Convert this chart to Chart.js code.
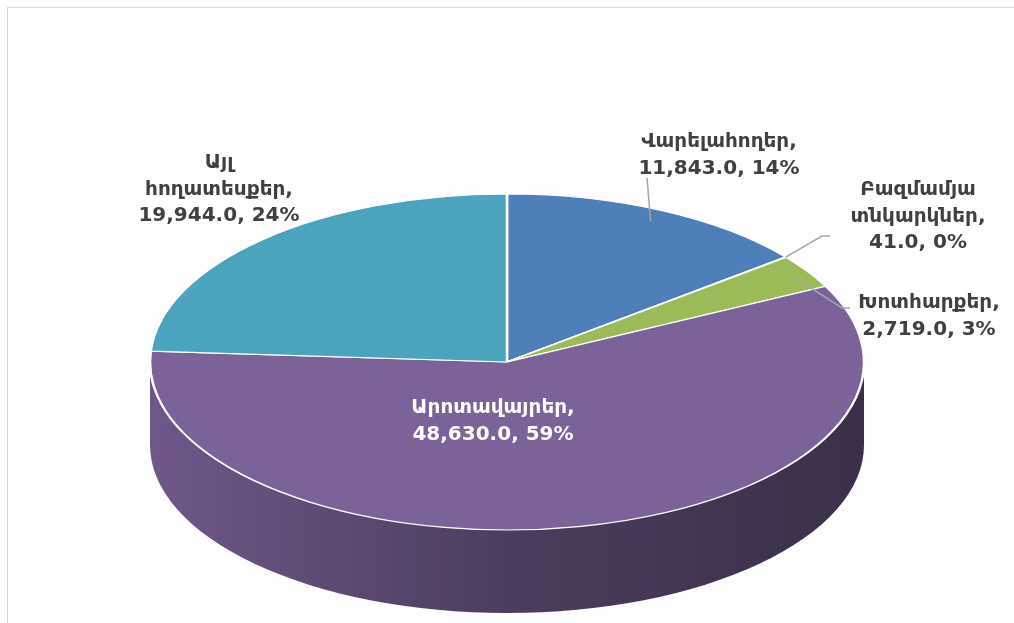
<!DOCTYPE html>
<html>
<head>
<meta charset="utf-8">
<script src="https://cdn.jsdelivr.net/npm/chart.js@4/dist/chart.umd.min.js"></script>
<style>
  html, body { margin: 0; padding: 0; background: #fff; }
  #wrap { position: relative; width: 1014px; height: 623px; }
  #frame { position: absolute; left: 7px; top: 7px; width: 1020px; height: 630px; border: 1px solid #d9d9d9; }
  canvas { position: absolute; left: 0; top: 0; }
</style>
</head>
<body>
<div id="wrap">
  <div id="frame"></div>
  <canvas id="graphique" width="1014" height="623"></canvas>
</div>
<script>
// donnees
const categories = ['Վարելահողեր', 'Բազմամյա տնկարկներ', 'Խոտհարքեր', 'Արոտավայրեր', 'Այլ հողատեսքեր'];
const values = [11843.0, 41.0, 2719.0, 48630.0, 19944.0];
const percents = [14, 0, 3, 59, 24];
const colors = ['#4f7fb8', '#c0504d', '#9bbb59', '#7b6298', '#4ba3bd'];

// mise en page (ellipse + etiquettes)
const pie = { cx: 507, cy: 362, rx: 357, ry: 168, depth: 83 };
const labelLayout = [
  { x: 719, y: 142, color: '#404040', wrap: false, lead: [0.93, 647, 178] },
  { x: 918, y: 190, color: '#404040', wrap: true, lead: [1.0, 822, 236, 830] },
  { x: 929, y: 303, color: '#404040', wrap: false, lead: [0.95, 842, 308, 850] },
  { x: 493, y: 408, color: '#ffffff', wrap: false },
  { x: 219, y: 163, color: '#404040', wrap: true }
];

function shade(hex, f) {
  const n = parseInt(hex.slice(1), 16);
  const r = Math.round(((n >> 16) & 255) * f);
  const g = Math.round(((n >> 8) & 255) * f);
  const b = Math.round((n & 255) * f);
  return 'rgb(' + r + ',' + g + ',' + b + ')';
}

function pt(a, rf) {
  return [pie.cx + pie.rx * rf * Math.cos(a), pie.cy + pie.ry * rf * Math.sin(a)];
}

function fmt(v) {
  return v.toLocaleString('en-US', { minimumFractionDigits: 1, maximumFractionDigits: 1 });
}

const pie3d = {
  id: 'pie3d',
  beforeDatasetsDraw(chart) {
    const ctx = chart.ctx;
    const arcs = chart.getDatasetMeta(0).data;
    // cote du camembert (partie avant seulement)
    arcs.forEach((arc, i) => {
      let a1 = Math.max(arc.startAngle, 0);
      let a2 = Math.min(arc.endAngle, Math.PI);
      // angles peuvent depasser 2PI
      if (arc.endAngle > 2 * Math.PI) {
        a1 = Math.max(arc.startAngle - 2 * Math.PI, 0);
        a2 = Math.min(arc.endAngle - 2 * Math.PI, Math.PI);
      }
      if (a2 <= a1) return;
      const grad = ctx.createLinearGradient(pie.cx - pie.rx, 0, pie.cx + pie.rx, 0);
      grad.addColorStop(0, shade(colors[i], 0.9));
      grad.addColorStop(0.5, shade(colors[i], 0.62));
      grad.addColorStop(1, shade(colors[i], 0.48));
      ctx.save();
      ctx.beginPath();
      ctx.ellipse(pie.cx, pie.cy, pie.rx, pie.ry, 0, a1, a2, false);
      ctx.ellipse(pie.cx, pie.cy + pie.depth, pie.rx, pie.ry, 0, a2, a1, true);
      ctx.closePath();
      ctx.fillStyle = grad;
      ctx.fill();
      ctx.restore();
    });
    // applatissement du dessus
    const a0 = arcs[0];
    ctx.save();
    ctx.translate(pie.cx, pie.cy);
    ctx.scale(pie.rx / a0.outerRadius, pie.ry / a0.outerRadius);
    ctx.translate(-a0.x, -a0.y);
  },
  afterDatasetsDraw(chart) {
    chart.ctx.restore();
  },
  afterDraw(chart) {
    const ctx = chart.ctx;
    const arcs = chart.getDatasetMeta(0).data;
    ctx.save();
    ctx.font = 'bold 20px "DejaVu Sans", Verdana, sans-serif';
    ctx.textAlign = 'center';
    ctx.textBaseline = 'middle';
    arcs.forEach((arc, i) => {
      const lay = labelLayout[i];
      if (lay.lead) {
        const mid = (arc.startAngle + arc.endAngle) / 2;
        const s = pt(mid, lay.lead[0]);
        ctx.strokeStyle = '#a6a6a6';
        ctx.lineWidth = 1.5;
        ctx.beginPath();
        ctx.moveTo(s[0], s[1]);
        ctx.lineTo(lay.lead[1], lay.lead[2]);
        if (lay.lead[3]) ctx.lineTo(lay.lead[3], lay.lead[2]);
        ctx.stroke();
      }
      let lines = lay.wrap ? categories[i].split(' ') : [categories[i]];
      lines[lines.length - 1] += ',';
      lines.push(fmt(values[i]) + ', ' + percents[i] + '%');
      ctx.fillStyle = lay.color;
      lines.forEach((t, k) => ctx.fillText(t, lay.x, lay.y + k * 26.5));
    });
    ctx.restore();
  }
};

new Chart(document.getElementById('graphique'), {
  type: 'pie',
  data: {
    labels: categories,
    datasets: [{
      data: values,
      backgroundColor: colors,
      borderColor: '#ffffff',
      borderWidth: 2.2
    }]
  },
  options: {
    responsive: false,
    animation: false,
    events: [],
    layout: { padding: 0 },
    plugins: {
      legend: { display: false },
      tooltip: { enabled: false }
    }
  },
  plugins: [pie3d]
});
</script>
</body>
</html>
